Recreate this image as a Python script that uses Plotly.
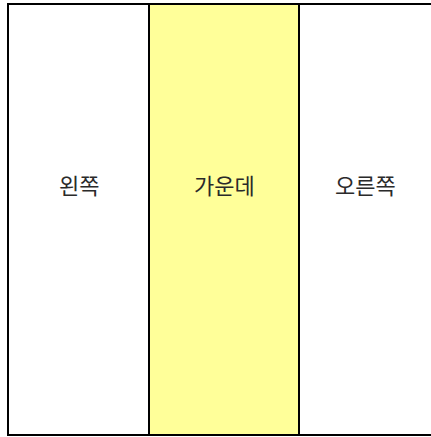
import plotly.graph_objects as go

labels = ["왼쪽", "가운데", "오른쪽"]
fill_colors = ["#ffffff", "#ffff99", "#ffffff"]
col_widths = [141, 150, 133]
values = [1, 1, 1]

W, H = 431, 437
left0 = 8
top_px, bottom_px = 4, 435

edges = [left0]
for w in col_widths:
    edges.append(edges[-1] + w)
centers = [(edges[i] + edges[i + 1]) / 2 for i in range(len(col_widths))]

base = H - bottom_px
height = (bottom_px - top_px)

fig = go.Figure()
fig.add_trace(go.Bar(
    x=centers,
    y=[v * height for v in values],
    base=base,
    width=col_widths,
    marker=dict(color=fill_colors, line=dict(color="#000000", width=2)),
    hoverinfo="skip",
))

for c, lab in zip(centers, labels):
    fig.add_annotation(x=c, y=H - 184, text=lab, showarrow=False,
                       font=dict(family="Noto Sans CJK KR", size=22, color="#2a2a2a"),
                       xanchor="center", yanchor="middle")

fig.update_layout(
    width=W, height=H,
    margin=dict(l=0, r=0, t=0, b=0),
    paper_bgcolor="#ffffff", plot_bgcolor="#ffffff",
    showlegend=False,
    xaxis=dict(range=[0, W], visible=False, fixedrange=True),
    yaxis=dict(range=[0, H], visible=False, fixedrange=True),
    bargap=0,
)

fig.write_html("out.html", config={"displayModeBar": False, "staticPlot": True},
               post_script="document.body.style.margin='0px';document.body.style.overflow='hidden';")
